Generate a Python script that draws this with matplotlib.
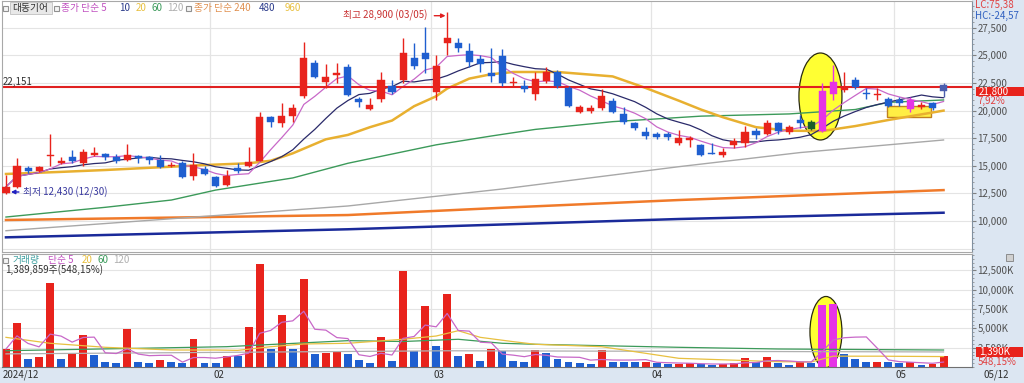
import matplotlib
matplotlib.use('Agg')
import matplotlib.pyplot as plt
from matplotlib.patches import Ellipse, Rectangle, FancyBboxPatch
import matplotlib.ticker as mticker
import numpy as np
import pandas as pd

plt.rcParams['font.family'] = ['Noto Sans CJK KR', 'DejaVu Sans']

# ---------------- data ----------------
opens = [12500, 13050, 14830, 14530, 15900, 15280, 15830, 15230, 15980, 16100,
         15830, 15530, 15890, 15770, 15530, 14990, 15230, 14080, 14710, 13950,
         13260, 14770, 14980, 15460, 19400, 18850, 19510, 21330, 24340, 22620,
         23260, 23980, 21030, 20120, 21030, 22230, 22780, 24800, 25260, 21700,
         26160, 26160, 25430, 24650, 23440, 24950, 22470, 22260, 21480, 22710,
         23530, 22020, 19900, 19970, 20210, 20900, 19690, 18910, 18090, 17880,
         17880, 17100, 17340, 16890, 16130, 15980, 16890, 17100, 18180, 17880,
         18850, 18090, 19150, 19000, 18180, 21510, 21870, 22780, 21600, 21390,
         21030, 20970, 20120, 20360, 20660, 22300]
highs = [14150, 15700, 15000, 15000, 17880, 15770, 16430, 16500, 16680, 16190,
         16070, 17000, 15980, 15890, 15980, 15350, 15400, 16190, 14980, 14080,
         14620, 15280, 16730, 19900, 19500, 20660, 20600, 26250, 24590, 24230,
         24290, 24200, 21270, 21120, 23530, 22780, 26560, 26100, 27620, 25040,
         28900, 26600, 26160, 25040, 25670, 25550, 23080, 22780, 23530, 23920,
         23680, 22190, 20510, 20510, 21930, 21120, 20300, 19000, 18500, 18090,
         18090, 18250, 17700, 17000, 17040, 16590, 17500, 18600, 18400, 19150,
         19000, 18700, 19600, 19150, 22530, 24130, 23530, 23020, 22020, 22020,
         21200, 21200, 21200, 20750, 20800, 22500]
lows = [12430, 12950, 14320, 14450, 15000, 15165, 15230, 15000, 15890, 15500,
        15280, 15440, 15230, 15200, 14770, 14900, 13900, 13750, 14140, 13050,
        13170, 14350, 14920, 15430, 18490, 18490, 19000, 21120, 22920, 22020,
        22470, 21330, 20360, 20060, 20810, 21500, 22530, 23800, 23380, 20970,
        25040, 25310, 23950, 23530, 22620, 22190, 22190, 21720, 20970, 22470,
        22020, 20300, 19750, 19780, 20060, 19750, 18790, 18240, 17410, 17410,
        17350, 16880, 16700, 15890, 16070, 15830, 16580, 16730, 17410, 17790,
        17900, 17880, 18450, 18200, 18090, 20970, 21720, 21930, 21030, 20970,
        20300, 20400, 19900, 20150, 20050, 21200]
closes = [13100, 15000, 14560, 14920, 15980, 15440, 15440, 16280, 16120, 15830,
          15440, 15980, 15710, 15530, 14920, 15050, 14010, 15050, 14260, 13170,
          14080, 14530, 15370, 19400, 18940, 19510, 20210, 24740, 23080, 23080,
          23410, 21420, 20750, 20510, 22780, 21720, 25200, 24040, 24650, 24040,
          26600, 25670, 24380, 24230, 23140, 22530, 22560, 21990, 22840, 23530,
          22190, 20420, 20300, 20210, 21330, 19900, 19000, 18390, 17700, 17640,
          17580, 17500, 17490, 15980, 16070, 16220, 17280, 18090, 17790, 18850,
          18180, 18550, 18900, 18320, 21810, 22620, 22020, 22120, 21480, 21500,
          20420, 20660, 20970, 20510, 20200, 21800]
volumes_k = [2330, 5740, 1075, 1295, 10840, 1036, 1850, 4100, 1515, 690,
             560, 4920, 690, 475, 905, 605, 475, 3670, 475, 470,
             1450, 1420, 5140, 13340, 2330, 6730, 2330, 11360, 1680, 1770,
             1900, 1680, 905, 560, 3840, 775, 12470, 2110, 7940, 2720,
             9410, 1465, 1680, 775, 2330, 2110, 775, 690, 2200, 1770,
             1036, 690, 560, 390, 2200, 690, 640, 600, 650, 475,
             400, 440, 460, 380, 260, 390, 560, 1125, 605, 1335,
             560, 260, 605, 475, 8030, 8160, 1680, 990, 605, 690,
             605, 580, 620, 260, 345, 1390]

month_labels = ['2024/12', '02', '03', '04', '05']
month_start = [0, 19, 39, 59, 81]
last_date_label = '05/12'

# moving averages (candle index, value)
ma20_idx = [0, 5, 9, 15, 18, 22, 24, 26, 29, 31, 33, 35, 37, 39, 40, 42, 44, 46, 50, 55, 58, 61, 63, 65, 68, 71, 74, 77, 80, 85]
ma20_val = [14260, 14450, 14620, 14920, 15070, 15230, 15460, 16130, 17400, 17800, 18500, 19100, 20400, 21300, 22000, 22900, 23300, 23500, 23500, 23100, 22050, 20900, 20100, 19400, 18500, 18180, 18150, 18600, 19150, 20000]
ma60_idx = [0, 9, 15, 19, 26, 31, 39, 44, 48, 55, 63, 71, 77, 80, 85]
ma60_val = [10360, 11240, 11900, 12800, 13900, 15230, 16900, 17700, 18300, 19000, 19500, 19700, 20100, 20750, 20965]
ma120_idx = [0, 31, 45, 61, 72, 85]
ma120_val = [9120, 11360, 12900, 14920, 16200, 17340]
ma240_idx = [0, 31, 45, 61, 85]
ma240_val = [10090, 10540, 11200, 11900, 12800]
ma480_idx = [0, 31, 61, 85]
ma480_val = [8520, 9250, 10180, 10750]

vma20_idx = [0, 4, 9, 15, 19, 21, 24, 27, 31, 36, 39, 41, 43, 46, 48, 54, 58, 61, 70, 73, 74, 75, 79, 85]
vma20_val = [3840, 3070, 2550, 2200, 2200, 2150, 2630, 2980, 3070, 3590, 4010, 4700, 3840, 3280, 2940, 2630, 1770, 1125, 690, 650, 1030, 1400, 1400, 1350]
vma60_idx = [0, 12, 20, 31, 36, 41, 45, 48, 61, 70, 85]
vma60_val = [2110, 2420, 2630, 3410, 3300, 3590, 3070, 2940, 2550, 2330, 2200]
vma120_idx = [0, 40, 85]
vma120_val = [1700, 2100, 1950]

ref_line = 22151
high_text = '최고 28,900 (03/05)'
high_idx, high_val = 40, 28900
low_text = '최저 12,430 (12/30)'
low_idx, low_val = 0, 12430
last_price_text = '21,800'
last_pct_text = '7,92%'
last_vol_text = '1,390K'
last_vol_pct_text = '548,15%'
vol_info_text = '1,389,859주(548,15%)'
stock_name = '대동기어'

# ---------------- styles ----------------
W, H = 1024, 383
UP, DOWN = '#e8231c', '#1f5fd0'
MAG = '#e633e6'
candle_override = {73: '#1b5e2a', 74: MAG, 75: MAG, 82: MAG, 85: '#4b5eae'}
vol_override = {74: MAG, 75: MAG}
BAND = '#dce6f2'
GRID = '#e4e4e4'

fig = plt.figure(figsize=(W / 100, H / 100), dpi=100)
fig.patch.set_facecolor('white')


def fr(x0, y0, x1, y1):
    return [x0 / W, 1 - y1 / H, (x1 - x0) / W, (y1 - y0) / H]


def fx(x):
    return x / W


def fy(y):
    return 1 - y / H


# background bands
fig.add_artist(Rectangle((fx(972), 0), 1 - fx(972), 1, transform=fig.transFigure,
                         facecolor=BAND, edgecolor='none', zorder=-2))
fig.add_artist(Rectangle((0, 0), 1, fy(367), transform=fig.transFigure,
                         facecolor=BAND, edgecolor='none', zorder=-2))

ax = fig.add_axes(fr(2, 1, 972, 252))
axv = fig.add_axes(fr(2, 254, 972, 367))

n = len(closes)
xs = np.arange(n)
XL = (-0.36, 87.58)

# ---------------- price panel ----------------
ax.set_xlim(*XL)
ax.set_ylim(7191, 29932)
for v in range(7500, 30000, 2500):
    ax.axhline(v, color=GRID, lw=0.8, zorder=0)
for m in month_start[1:]:
    ax.axvline(m - 0.5, color=GRID, lw=0.9, zorder=0)

# highlight shapes
ax.add_patch(Ellipse((73.84, 21280), 3.9, 7880, facecolor='#ffff33', edgecolor='#2a2a10', lw=0.9, zorder=1.5))
ax.add_patch(Rectangle((79.87, 19422), 3.99, 997, facecolor='#ffee44', edgecolor='#c08020', lw=1.0, zorder=1.5))

# moving averages
ma5 = pd.Series(closes).rolling(5, min_periods=1).mean()
ma10 = pd.Series(closes).rolling(10, min_periods=1).mean()
ax.plot(ma480_idx, ma480_val, color='#1a2a9a', lw=1.8, zorder=2)
ax.plot(ma240_idx, ma240_val, color='#f07a2a', lw=1.8, zorder=2)
ax.plot(ma120_idx, ma120_val, color='#a8a8a8', lw=1.0, zorder=2)
ax.plot(ma60_idx, ma60_val, color='#3c9a5a', lw=1.0, zorder=2)
ax.plot(ma20_idx, ma20_val, color='#e8b030', lw=1.8, zorder=2)
ax.plot(xs, ma10, color='#2a2a6a', lw=0.9, zorder=2)
ax.plot(xs, ma5, color='#c868c8', lw=0.9, zorder=2)

ax.axhline(ref_line, color='#e02020', lw=1.5, zorder=2.5)
ax.text(-0.3, 22600, f'{ref_line:,}', fontsize=7, color='#303030', va='center', ha='left', zorder=4)

# candles
for i in range(n):
    o, h, l, c = opens[i], highs[i], lows[i], closes[i]
    col = candle_override.get(i, UP if c >= o else DOWN)
    ax.vlines(i, l, h, color=col, lw=1.0, zorder=3)
    lo, hi = min(o, c), max(o, c)
    if hi - lo < 100:
        mid = (hi + lo) / 2
        lo, hi = mid - 50, mid + 50
    ax.bar(i, hi - lo, bottom=lo, width=0.64, color=col, edgecolor=col, lw=0.3, zorder=3.2)

# annotations
ax.annotate(high_text, xy=(high_idx - 0.15, 28600), xytext=(38.2, 28600),
            ha='right', va='center', fontsize=7, color='#c83030',
            arrowprops=dict(arrowstyle='-|>', color='#e02020', lw=1.0, shrinkA=3, shrinkB=0,
                            mutation_scale=6), zorder=5)
ax.annotate(low_text, xy=(low_idx + 0.45, 12627), xytext=(1.55, 12627),
            ha='left', va='center', fontsize=7, color='#3a3aa0',
            arrowprops=dict(arrowstyle='-|>', color='#2020c0', lw=1.0, shrinkA=1, shrinkB=0,
                            mutation_scale=6), zorder=5)

ax.set_xticks([])
ax.yaxis.tick_right()
ax.set_yticks(range(10000, 27501, 2500))
ax.yaxis.set_major_formatter(mticker.FuncFormatter(lambda v, p: f'{int(v):,}'))
ax.yaxis.set_minor_locator(mticker.MultipleLocator(500))
ax.tick_params(axis='y', which='major', direction='out', length=3, width=0.8,
               color='#808080', labelsize=7, labelcolor='#505050', pad=1)
ax.tick_params(axis='y', which='minor', direction='out', length=1.5, width=0.6, color='#909090')
for s in ax.spines.values():
    s.set_color('#a8a8a8')
    s.set_linewidth(0.8)
ax.spines['right'].set_color('#8090a0')

# ---------------- volume panel ----------------
axv.set_xlim(*XL)
axv.set_ylim(0, 14630)
for v in range(2500, 14000, 2500):
    axv.axhline(v, color=GRID, lw=0.8, zorder=0)
for m in month_start[1:]:
    axv.axvline(m - 0.5, color=GRID, lw=0.9, zorder=0)

axv.add_patch(Ellipse((74.34, 4530), 2.9, 9200, facecolor='#ffff33', edgecolor='#2a2a10', lw=0.9, zorder=1.5))

vcols = []
for i, v in enumerate(volumes_k):
    base = UP if (i == 0 or v > volumes_k[i - 1]) else DOWN
    vcols.append(vol_override.get(i, base))
axv.bar(xs, volumes_k, width=0.72, color=vcols, zorder=2)

vma5 = pd.Series(volumes_k).rolling(5, min_periods=1).mean()
axv.plot(vma120_idx, vma120_val, color='#b0b0b0', lw=0.9, zorder=2.5)
axv.plot(vma60_idx, vma60_val, color='#3c9a5a', lw=0.9, zorder=2.5)
axv.plot(vma20_idx, vma20_val, color='#e8c040', lw=0.9, zorder=2.5)
axv.plot(xs, vma5, color='#c868c8', lw=0.9, zorder=2.5)

axv.set_xticks([])
axv.yaxis.tick_right()
axv.set_yticks(range(2500, 12501, 2500))
axv.yaxis.set_major_formatter(mticker.FuncFormatter(lambda v, p: f'{int(v):,}K'))
axv.yaxis.set_minor_locator(mticker.MultipleLocator(500))
axv.tick_params(axis='y', which='major', direction='out', length=3, width=0.8,
                color='#808080', labelsize=7, labelcolor='#505050', pad=1)
axv.tick_params(axis='y', which='minor', direction='out', length=1.5, width=0.6, color='#909090')
for s in axv.spines.values():
    s.set_color('#a8a8a8')
    s.set_linewidth(0.8)
axv.spines['right'].set_color('#8090a0')
axv.spines['bottom'].set_color('#707070')

# ---------------- legends / text ----------------
def sq(x, y):
    fig.add_artist(Rectangle((fx(x - 2.5), fy(y + 2.5)), 5 / W, 5 / H, transform=fig.transFigure,
                             facecolor='#f4f4f4', edgecolor='#909090', lw=0.8, zorder=6))


def t(x, y, s, color, **kw):
    fig.text(fx(x), fy(y), s, color=color, fontsize=kw.pop('fontsize', 7), va='center', ha=kw.pop('ha', 'left'),
             zorder=7, **kw)


sq(5, 8)
fig.add_artist(FancyBboxPatch((fx(10), fy(14)), 42 / W, 12 / H, boxstyle='square,pad=0',
                              transform=fig.transFigure, facecolor='#e8e8e8', edgecolor='#c0c0c0',
                              lw=0.6, zorder=6))
t(12, 8, stock_name, '#303030')
sq(56, 8)
t(61, 8, '종가 단순 5', '#c050c0')
t(119, 8, '10', '#2a3a8a')
t(136, 8, '20', '#e8c040')
t(151, 8, '60', '#3a9a5a')
t(167, 8, '120', '#b0b0b0')
sq(188, 8)
t(194, 8, '종가 단순 240', '#e09050')
t(259, 8, '480', '#2a3a8a')
t(285, 8, '960', '#e8c040')

sq(5, 260)
t(13, 260, '거래량', '#40a0a0')
t(48, 260, '단순 5', '#c050c0')
t(82, 260, '20', '#e8c040')
t(97, 260, '60', '#3a9a5a')
t(113, 260, '120', '#b0b0b0')
t(5, 270, vol_info_text, '#303030')

t(975, 5, 'LC:75,38', '#e04040')
t(975, 16, 'HC:-24,57', '#3060c0')

# last price box
fig.add_artist(Rectangle((fx(976), fy(96)), 48 / W, 9 / H, transform=fig.transFigure,
                         facecolor='#e8231c', edgecolor='none', zorder=6))
t(979, 91.5, last_price_text, 'white')
t(978, 101, last_pct_text, '#e04040')
fig.add_artist(Rectangle((fx(976), fy(357)), 47 / W, 10 / H, transform=fig.transFigure,
                         facecolor='#e8231c', edgecolor='none', zorder=6))
t(979, 352, last_vol_text, 'white')
t(978, 362, last_vol_pct_text, '#e04040')
fig.add_artist(Rectangle((fx(1006), fy(261)), 7 / W, 7 / H, transform=fig.transFigure,
                         facecolor='#d0d0d0', edgecolor='#808080', lw=0.6, zorder=6))

# date labels
date_x = [3, 213, 433, 652, 895]
for lab, x in zip(month_labels, date_x):
    t(x, 375, lab, '#303030')
t(983, 375, last_date_label, '#303030')

fig.savefig('out.png', dpi=100, facecolor='white')
